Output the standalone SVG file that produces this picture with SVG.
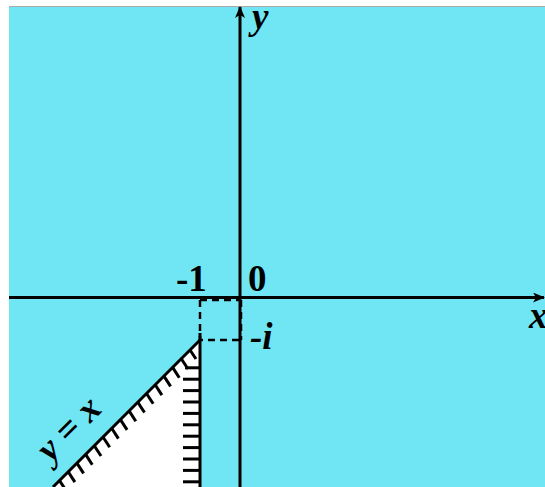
<svg xmlns="http://www.w3.org/2000/svg" width="545" height="487" viewBox="0 0 545 487">
<style>
.ax{stroke:#000;stroke-width:3;fill:none}
.dash{stroke:#000;stroke-width:2.5;fill:none;stroke-dasharray:7 5}
.tick{stroke:#000;stroke-width:3}
.lbl{font-family:"Liberation Serif","Times New Roman",serif;font-weight:bold;font-size:37px;fill:#000}
.it{font-style:italic}
</style>
<defs>
<marker id="arr" markerWidth="12" markerHeight="10" refX="11" refY="5" orient="auto" markerUnits="userSpaceOnUse">
<path d="M0,0 L12,5 L0,10 L3,5 Z" fill="#000"/>
</marker>
</defs>
<rect x="0" y="0" width="545" height="487" fill="#fff"/>
<rect x="9" y="7" width="536" height="480" fill="#70E6F4"/>
<line x1="9" y1="6.5" x2="545" y2="6.5" stroke="#aaa" stroke-width="1"/>
<g id="region">
<polygon points="200,340 200,487 53,487" fill="#fff"/>
</g>
<g id="connectors">
<line class="ax" x1="9" y1="297.5" x2="544" y2="297.5" marker-end="url(#arr)"/>
<line class="ax" x1="240" y1="487" x2="240" y2="7" marker-end="url(#arr)"/>
<path class="dash" d="M200,300 H241 M200,300 V340 H241 M241,300 V340"/>
<line class="ax" x1="200" y1="333" x2="200" y2="487"/>
<line class="ax" x1="200" y1="340" x2="53" y2="487"/>
<g id="hatch-v" class="tick">
<line x1="185" y1="367.8" x2="200" y2="367.8"/>
<line x1="183" y1="379.2" x2="200" y2="379.2"/>
<line x1="183" y1="390.6" x2="200" y2="390.6"/>
<line x1="183" y1="402" x2="200" y2="402"/>
<line x1="183" y1="413.4" x2="200" y2="413.4"/>
<line x1="183" y1="424.8" x2="200" y2="424.8"/>
<line x1="183" y1="436.2" x2="200" y2="436.2"/>
<line x1="183" y1="447.6" x2="200" y2="447.6"/>
<line x1="183" y1="459" x2="200" y2="459"/>
<line x1="183" y1="470.4" x2="200" y2="470.4"/>
<line x1="183" y1="481.8" x2="200" y2="481.8"/>
</g>
<g id="hatch-d" class="tick">
<line x1="190" y1="350" x2="196" y2="359"/>
<line x1="181.3" y1="358.7" x2="188" y2="369"/>
<line x1="172.6" y1="367.4" x2="179.3" y2="377.7"/>
<line x1="163.9" y1="376.1" x2="170.6" y2="386.4"/>
<line x1="155.2" y1="384.8" x2="161.9" y2="395.1"/>
<line x1="146.5" y1="393.5" x2="153.2" y2="403.8"/>
<line x1="137.8" y1="402.2" x2="144.5" y2="412.5"/>
<line x1="129.1" y1="410.9" x2="135.8" y2="421.2"/>
<line x1="120.4" y1="419.6" x2="127.1" y2="429.9"/>
<line x1="111.7" y1="428.3" x2="118.4" y2="438.6"/>
<line x1="103" y1="437" x2="109.7" y2="447.3"/>
<line x1="94.3" y1="445.7" x2="101" y2="456"/>
<line x1="85.6" y1="454.4" x2="92.3" y2="464.7"/>
<line x1="76.9" y1="463.1" x2="83.6" y2="473.4"/>
<line x1="68.2" y1="471.8" x2="74.9" y2="482.1"/>
<line x1="59.5" y1="480.5" x2="66.2" y2="490.8"/>
</g>
</g>
<g id="labels">
<text class="lbl it" x="252" y="29">y</text>
<text class="lbl it" x="529" y="328">x</text>
<text class="lbl" x="176" y="291">-1</text>
<text class="lbl" x="248" y="291">0</text>
<text class="lbl it" x="250" y="349">-i</text>
<text class="lbl it" text-anchor="middle" transform="translate(77,437) rotate(-45)">y = x</text>
</g>
</svg>
